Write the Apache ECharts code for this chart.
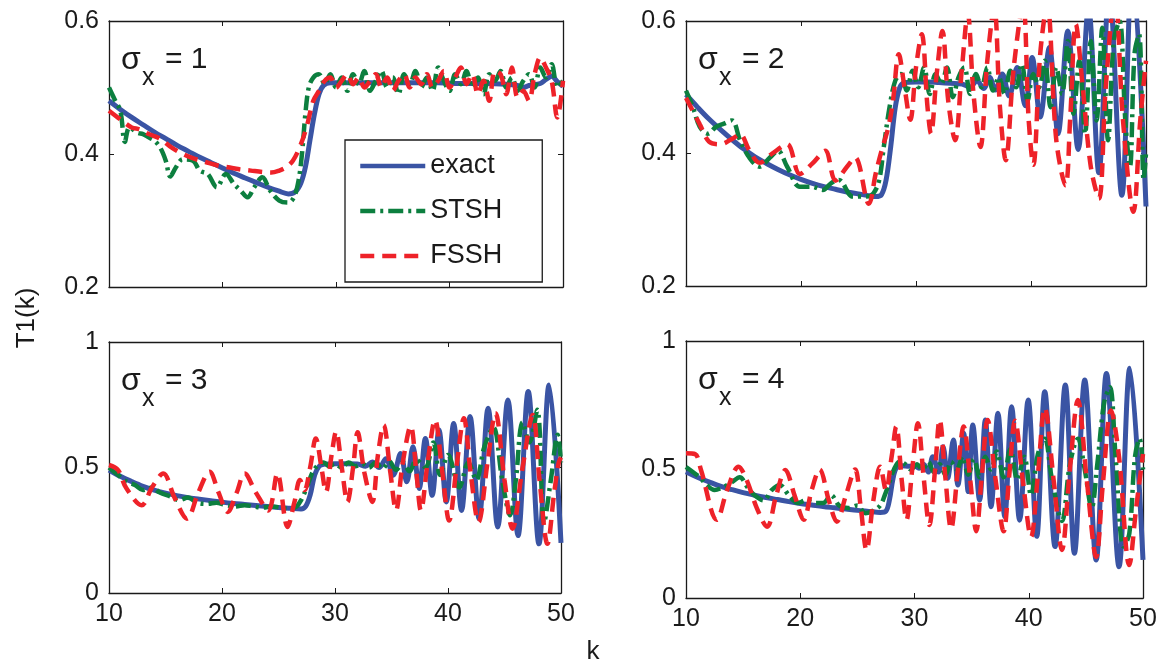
<!DOCTYPE html>
<html><head><meta charset="utf-8">
<script src="https://cdn.jsdelivr.net/npm/echarts@6/dist/echarts.min.js"></script>
<style>html,body{margin:0;padding:0;background:#fff}#c{width:1161px;height:668px}</style>
</head><body><div id="c"></div>
<script>
// ---------------- data ----------------
const seriesNames = ['exact', 'STSH', 'FSSH'];
const panelSigma = ['1', '2', '3', '4'];
const xTicks = [10, 20, 30, 40, 50];
const yTicksTop = [0.2, 0.4, 0.6];
const yTicksBottom = [0, 0.5, 1];

// panel 1 : sigma_x = 1
const exact1 = [[10,.480],[11,.467],[12,.455],[13,.444],[14,.433],[15,.423],[16,.413],[17,.404],[18,.395],[19,.387],[20,.379],[21,.371],[22,.364],[23,.357],[24,.350],[25,.344],[25.8,.340],[26.4,.343],[26.9,.356],[27.3,.38],[27.7,.42],[28.1,.46],[28.5,.49],[28.9,.503],[29.5,.507],[31,.507],[33,.507],[35,.507],[37,.507],[39,.507],[41,.506],[43,.506],[45,.505],[46,.503],[46.5,.500],[47,.503],[48,.506],[48.5,.512],[49,.517],[49.5,.509],[50,.502]];
const stsh1 = [[10,.500],[10.5,.482],[11,.465],[11.4,.418],[11.8,.44],[12.5,.432],[13,.43],[13.5,.425],[14,.42],[14.5,.41],[15,.39],[15.4,.366],[15.9,.38],[16.5,.392],[17.4,.39],[18,.375],[18.7,.37],[19.5,.35],[20.3,.37],[21,.355],[21.6,.345],[22.2,.335],[22.8,.35],[23.5,.365],[24.2,.345],[25,.330],[25.8,.327],[26.3,.335],[26.7,.36],[27,.40],[27.3,.46],[27.6,.50],[28,.515],[28.5,.52],[29,.505],[29.5,.52],[30,.50],[30.5,.515],[31,.495],[31.5,.52],[32,.505],[32.5,.525],[33,.495],[33.5,.51],[34,.525],[34.5,.50],[35,.515],[35.5,.49],[36,.52],[36.5,.505],[37,.525],[37.5,.50],[38,.515],[38.5,.495],[39,.53],[39.5,.51],[40,.495],[40.5,.52],[41,.505],[41.5,.525],[42,.50],[42.5,.515],[43,.49],[43.5,.52],[44,.51],[44.5,.525],[45,.50],[45.5,.515],[46,.495],[46.5,.51],[47,.52],[47.5,.50],[48,.53],[48.5,.515],[49,.535],[49.5,.50],[50,.51]];
const fssh1 = [[10,.465],[11,.452],[12,.44],[12.7,.437],[13.5,.43],[14.5,.423],[15.5,.41],[16.5,.40],[17.5,.393],[18.5,.388],[19.5,.383],[20.5,.38],[21.5,.377],[22.5,.375],[23.5,.373],[24.3,.372],[25,.375],[25.6,.38],[26.2,.39],[26.8,.41],[27.4,.44],[28,.48],[28.5,.495],[29,.51],[29.5,.515],[30,.50],[30.5,.51],[31,.52],[31.5,.505],[32,.515],[32.5,.50],[33,.51],[33.5,.52],[34,.50],[34.5,.515],[35,.495],[35.5,.51],[36,.52],[36.5,.50],[37,.515],[37.5,.505],[38,.52],[38.5,.50],[39,.51],[39.5,.525],[40,.50],[40.5,.515],[41,.53],[41.5,.505],[42,.52],[42.5,.49],[43,.51],[43.5,.48],[44,.525],[44.5,.52],[45,.49],[45.5,.53],[46,.485],[46.5,.495],[47,.48],[47.5,.52],[48,.545],[48.5,.53],[49,.51],[49.5,.455],[50,.51]];

// panel 2 : sigma_x = 2
const exact2 = [[10,.489],[11,.470],[12,.452],[13,.436],[14,.421],[15,.407],[16,.395],[17,.385],[18,.376],[19,.368],[20,.361],[21,.355],[22,.350],[23,.346],[24,.342],[25,.339],[26,.336],[26.5,.335],[27,.338],[27.4,.36],[27.8,.41],[28.2,.47],[28.6,.50],[29,.507],[30,.508],[31,.508],[32,.507],[33,.506],[34,.505],[34.7,.500],[35.3,.510],[35.9,.498],[36.4,.515],[36.9,.496],[37.5,.52],[38.1,.487],[38.8,.53],[39.5,.472],[40.1,.545],[40.8,.455],[41.6,.56],[42.35,.43],[43.2,.585],[44.1,.406],[45.0,.62],[45.9,.371],[46.8,.65],[47.9,.337],[48.8,.68],[50,.32]];
const stsh2 = [[10,.495],[10.6,.47],[11.2,.44],[11.9,.43],[12.6,.44],[13.3,.445],[14,.45],[14.7,.42],[15.5,.394],[16.4,.38],[17.3,.394],[18,.404],[18.8,.38],[19.9,.35],[20.9,.35],[21.9,.345],[22.6,.355],[23.3,.36],[24.5,.335],[25.7,.335],[26.3,.34],[26.8,.36],[27.2,.41],[27.7,.47],[28.2,.51],[28.7,.52],[29.2,.495],[29.7,.525],[30.2,.50],[30.7,.53],[31.2,.49],[31.7,.52],[32.2,.505],[32.7,.53],[33.2,.485],[33.7,.515],[34.2,.53],[34.7,.49],[35.2,.52],[35.7,.50],[36.2,.53],[36.7,.495],[37.2,.515],[37.7,.49],[38.2,.525],[38.7,.50],[39.2,.535],[39.7,.48],[40.2,.52],[40.7,.50],[41.2,.54],[41.7,.47],[42.2,.53],[42.7,.49],[43.2,.57],[43.7,.46],[44.2,.54],[44.7,.43],[45.2,.57],[45.7,.45],[46.2,.59],[46.7,.42],[47.2,.57],[47.7,.60],[48.2,.45],[48.6,.38],[49,.55],[49.4,.58],[49.8,.36],[50,.40]];
const fssh2 = [[10,.484],[11.2,.444],[12,.418],[13,.414],[14,.422],[14.7,.429],[15.5,.405],[16.4,.386],[17.5,.40],[18.8,.414],[19.9,.369],[21,.385],[22.1,.404],[23,.359],[24,.38],[24.7,.394],[25.9,.324],[26.5,.37],[27,.404],[27.6,.44],[28,.48],[28.5,.55],[29,.50],[29.5,.451],[30,.53],[30.5,.58],[31,.47],[31.3,.43],[31.8,.52],[32.3,.585],[32.8,.48],[33.4,.42],[34,.53],[34.5,.61],[35,.49],[35.6,.41],[36.2,.54],[36.8,.62],[37.3,.47],[37.8,.39],[38.5,.53],[39.3,.625],[39.8,.45],[40.2,.383],[40.8,.55],[41.4,.625],[42.2,.42],[43.0,.352],[43.4,.45],[43.9,.595],[44.5,.50],[45.2,.38],[45.9,.332],[46.5,.50],[47.3,.64],[48,.45],[48.9,.312],[49.5,.45],[50,.54]];

// panel 3 : sigma_x = 3
const exact3 = [[10,.49],[11,.465],[12,.444],[13,.425],[14,.41],[15,.398],[16,.388],[17,.38],[18,.374],[19,.368],[20,.362],[21,.357],[22,.353],[23,.349],[24,.345],[25,.341],[26,.338],[27,.335],[27.4,.345],[27.8,.39],[28.2,.47],[28.6,.505],[29,.513],[30,.515],[31,.515],[32,.514],[32.7,.505],[33.3,.522],[33.9,.50],[34.5,.535],[35.15,.469],[35.8,.556],[36.35,.443],[36.9,.583],[37.45,.416],[38.0,.616],[38.6,.389],[39.2,.649],[39.85,.363],[40.5,.675],[41.2,.329],[41.95,.703],[42.75,.296],[43.55,.736],[44.4,.263],[45.3,.769],[46.2,.229],[47.1,.803],[48.05,.196],[48.95,.829],[50,.20]];
const stsh3 = [[10,.50],[10.8,.47],[11.5,.445],[12.3,.43],[13,.41],[13.8,.42],[14.5,.40],[15.4,.385],[16.2,.37],[17,.38],[17.8,.36],[18.7,.355],[19.5,.36],[20.3,.35],[21.2,.345],[22,.35],[22.8,.345],[23.6,.34],[24.4,.345],[25.2,.34],[26,.335],[26.6,.345],[27,.37],[27.5,.42],[28,.48],[28.5,.51],[29,.52],[29.5,.505],[30,.515],[30.6,.50],[31.2,.52],[31.8,.505],[32.4,.515],[33,.50],[33.6,.52],[34.2,.495],[34.8,.525],[35.4,.49],[36,.52],[36.6,.485],[37.2,.53],[38,.50],[38.7,.60],[39.3,.47],[40,.55],[41,.42],[41.8,.52],[42.5,.45],[43.2,.58],[44,.66],[44.8,.45],[45.5,.31],[46,.45],[46.6,.68],[47.2,.60],[47.9,.73],[48.5,.28],[49.1,.45],[49.7,.63],[50,.52]];
const fssh3 = [[10,.51],[10.8,.49],[11.5,.42],[12.9,.35],[13.8,.42],[14.8,.476],[15.8,.38],[16.9,.296],[17.9,.40],[18.9,.483],[19.7,.40],[20.5,.323],[21.3,.40],[22,.476],[23,.40],[24.1,.329],[24.9,.476],[25.8,.263],[26.4,.36],[26.9,.45],[27.3,.41],[27.8,.50],[28.3,.616],[28.8,.50],[29.2,.403],[29.7,.55],[30.1,.643],[30.6,.50],[31.1,.363],[31.6,.50],[32,.64],[32.6,.48],[33.3,.363],[33.8,.55],[34.3,.669],[34.9,.48],[35.4,.33],[36,.52],[36.7,.665],[37.2,.48],[37.6,.329],[38.2,.52],[38.85,.689],[39.5,.48],[40.1,.289],[40.8,.52],[41.4,.696],[42,.48],[42.7,.283],[43.5,.52],[44.2,.716],[45,.45],[45.7,.256],[46.6,.50],[47.5,.709],[48.1,.45],[48.8,.196],[49.4,.40],[49.8,.52],[50,.54]];

// panel 4 : sigma_x = 4
const exact4 = [[10,.491],[11,.47],[12,.452],[13,.435],[14,.422],[15,.41],[16,.4],[17,.391],[18,.383],[19,.375],[20,.368],[21,.362],[22,.356],[23,.351],[24,.346],[25,.341],[26,.337],[27,.333],[27.5,.338],[27.8,.38],[28.1,.46],[28.4,.505],[28.9,.515],[29.5,.513],[30,.515],[30.4,.505],[30.8,.52],[31.2,.49],[31.6,.55],[32.1,.49],[32.5,.589],[32.9,.466],[33.4,.615],[33.8,.44],[34.3,.641],[34.7,.414],[35.1,.673],[35.7,.381],[36.2,.693],[36.7,.355],[37.3,.719],[37.9,.316],[38.5,.744],[39.2,.303],[39.95,.77],[40.7,.24],[41.4,.803],[42.3,.20],[43.2,.829],[44.0,.174],[44.9,.848],[45.9,.148],[46.8,.874],[47.9,.122],[48.85,.894],[50,.148]];
const stsh4 = [[10,.51],[10.6,.49],[11.2,.47],[11.8,.44],[12.5,.42],[13.2,.43],[14,.45],[14.7,.47],[15.4,.43],[16,.40],[16.8,.38],[17.5,.42],[18.2,.44],[19,.40],[19.8,.37],[20.5,.38],[21.3,.37],[22,.37],[22.7,.40],[23.4,.36],[24.2,.35],[25,.36],[25.7,.33],[26.4,.34],[27,.36],[27.4,.40],[27.8,.45],[28.2,.50],[28.7,.53],[29.2,.52],[29.7,.50],[30.2,.52],[30.7,.50],[31.2,.53],[31.7,.49],[32.2,.52],[32.7,.48],[33.2,.53],[33.7,.50],[34.2,.55],[34.7,.48],[35.2,.54],[35.7,.47],[36.2,.55],[36.7,.50],[37.2,.57],[37.8,.47],[38.4,.58],[39,.46],[39.6,.55],[40.2,.40],[40.8,.56],[41.4,.62],[42,.47],[42.9,.30],[43.6,.52],[44.3,.62],[44.9,.50],[45.5,.35],[46,.52],[46.6,.76],[47.1,.82],[47.6,.55],[48.3,.20],[48.8,.25],[49.3,.55],[49.7,.62],[50,.50]];
const fssh4 = [[10,.563],[10.8,.56],[11.3,.50],[12.7,.304],[13.6,.42],[14.6,.511],[15.3,.46],[16.2,.35],[17.1,.277],[17.9,.40],[18.7,.498],[19.5,.40],[20.3,.304],[21,.42],[21.7,.50],[22.5,.38],[23.2,.297],[24,.40],[24.8,.50],[25.3,.35],[25.8,.187],[26.4,.38],[27,.511],[27.5,.42],[28,.55],[28.4,.667],[28.9,.45],[29.3,.304],[29.8,.50],[30.3,.68],[30.8,.47],[31.3,.284],[31.8,.50],[32.2,.693],[32.7,.47],[33.2,.27],[33.8,.50],[34.3,.667],[34.9,.45],[35.4,.26],[35.9,.48],[36.4,.693],[37.1,.46],[37.8,.26],[38.3,.48],[38.8,.69],[39.5,.45],[40.2,.238],[40.8,.48],[41.4,.74],[42.2,.45],[42.9,.187],[43.6,.50],[44.3,.77],[45.1,.45],[45.9,.16],[46.5,.45],[47.2,.73],[47.9,.55],[48.8,.128],[49.4,.35],[50,.56]];

// ---------------- layout / style ----------------
const FONT = '"Liberation Sans", Arial, Helvetica, sans-serif';
const INK = '#1a1a1a';
const panels = [
  {grid:{left:109, top:21, width:454, height:266}, y:yTicksTop, lines:[exact1, stsh1, fssh1], xlab:false},
  {grid:{left:686, top:21, width:460, height:265}, y:yTicksTop, lines:[exact2, stsh2, fssh2], xlab:false},
  {grid:{left:109, top:342, width:452, height:251}, y:yTicksBottom, lines:[exact3, stsh3, fssh3], xlab:true},
  {grid:{left:686, top:341, width:457, height:257}, y:yTicksBottom, lines:[exact4, stsh4, fssh4], xlab:true}
];
const styles = [
  {color:'#3a54a4', type:'solid', width:5},
  {color:'#0c7f3f', type:[15,5,3,5], width:4.5},
  {color:'#ee2229', type:[14,8], width:4.5}
];

const grid = [], xAxis = [], yAxis = [], series = [], graphic = [];
const tick = {inside:true, length:5, lineStyle:{color:INK, width:1}};
const line = {show:true, onZero:false, lineStyle:{color:INK, width:1.3}};
const lab = (show) => ({show, fontSize:25, color:INK, fontFamily:FONT, margin:9});

panels.forEach((p, i) => {
  grid.push(p.grid);
  const xmin = xTicks[0], xmax = xTicks[xTicks.length-1], xint = xTicks[1]-xTicks[0];
  const ymin = p.y[0], ymax = p.y[p.y.length-1], yint = p.y[1]-p.y[0];
  xAxis.push({gridIndex:i, type:'value', min:xmin, max:xmax, interval:xint, position:'bottom',
    axisLine:line, axisTick:tick, axisLabel:lab(p.xlab), splitLine:{show:false}});
  xAxis.push({gridIndex:i, type:'value', min:xmin, max:xmax, interval:xint, position:'top',
    axisLine:line, axisTick:tick, axisLabel:{show:false}, splitLine:{show:false}});
  yAxis.push({gridIndex:i, type:'value', min:ymin, max:ymax, interval:yint, position:'left',
    axisLine:line, axisTick:tick, axisLabel:Object.assign(lab(true), {margin:10}), splitLine:{show:false}});
  yAxis.push({gridIndex:i, type:'value', min:ymin, max:ymax, interval:yint, position:'right',
    axisLine:line, axisTick:tick, axisLabel:{show:false}, splitLine:{show:false}});
  p.lines.forEach((d, j) => {
    series.push({type:'line', name:seriesNames[j], xAxisIndex:2*i, yAxisIndex:2*i, data:d,
      symbol:'none', showSymbol:false, smooth:0.35, clip:true, color:styles[j].color,
      lineStyle:{color:styles[j].color, width:styles[j].width, type:styles[j].type},
      z:2+j});
  });
  // panel title  sigma_x = n
  const gx = p.grid.left, gy = p.grid.top;
  graphic.push({type:'text', x:gx+12, y:gy+39, style:{text:'σ', font:'32px '+FONT, fill:INK, align:'left', verticalAlign:'middle'}});
  graphic.push({type:'text', x:gx+33, y:gy+57, style:{text:'x', font:'25px '+FONT, fill:INK, align:'left', verticalAlign:'middle'}});
  graphic.push({type:'text', x:gx+56, y:gy+39, style:{text:'= ' + panelSigma[i], font:'30px '+FONT, fill:INK, align:'left', verticalAlign:'middle'}});
});

graphic.push({type:'text', x:27, y:318, rotation:Math.PI/2, style:{text:'T1(k)', font:'26px '+FONT, fill:INK, align:'center', verticalAlign:'middle'}});
graphic.push({type:'text', x:593, y:652, style:{text:'k', font:'26px '+FONT, fill:INK, align:'center', verticalAlign:'middle'}});

const chart = echarts.init(document.getElementById('c'), null, {renderer:'canvas'});
chart.setOption({
  animation:false,
  backgroundColor:'#fff',
  grid, xAxis, yAxis, series, graphic,
  legend:{data:seriesNames, left:345, top:140, orient:'vertical',
    itemWidth:65, itemHeight:20, itemGap:17, padding:[12,40,12,13],
    borderColor:INK, borderWidth:1.3, backgroundColor:'#fff', z:10,
    itemStyle:{opacity:0, borderWidth:0},
    lineStyle:{width:4.5},
    textStyle:{fontSize:27, lineHeight:28, color:INK, fontFamily:FONT}}
});
</script></body></html>
